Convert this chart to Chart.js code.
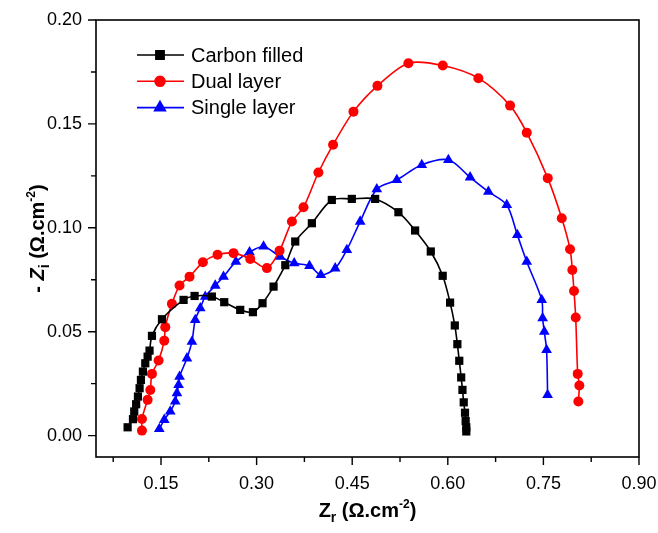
<!DOCTYPE html>
<html>
<head>
<meta charset="utf-8">
<script src="https://cdn.jsdelivr.net/npm/chart.js@4.4.0/dist/chart.umd.min.js"></script>
<style>
    body { margin: 0; background: #fff; }
    canvas { display: block; }
</style>
</head>
<body>
<canvas id="myChart" width="658" height="533"></canvas>
<script>
// Valeurs
const seriesNames = ['Carbon filled', 'Dual layer', 'Single layer'];

const carbonX = [0.0976, 0.106, 0.108, 0.111, 0.1138, 0.1164, 0.1185, 0.1216, 0.1253, 0.129, 0.132, 0.1358, 0.1515, 0.1854, 0.2027, 0.2298, 0.2492, 0.2743, 0.2942, 0.3093, 0.3266, 0.345, 0.3606, 0.3867, 0.418, 0.4494, 0.486, 0.5225, 0.5487, 0.5733, 0.592, 0.6036, 0.611, 0.615, 0.618, 0.621, 0.623, 0.625, 0.627, 0.628, 0.629, 0.629];
const carbonY = [0.004, 0.0079, 0.0116, 0.0151, 0.0188, 0.0228, 0.0268, 0.0308, 0.0348, 0.038, 0.0409, 0.048, 0.056, 0.0653, 0.0672, 0.0669, 0.0642, 0.0605, 0.0594, 0.0637, 0.0717, 0.082, 0.0934, 0.1022, 0.1134, 0.1139, 0.1139, 0.1075, 0.0987, 0.0886, 0.0769, 0.064, 0.053, 0.044, 0.036, 0.028, 0.022, 0.016, 0.011, 0.007, 0.004, 0.002];

const dualX = [0.1201, 0.1201, 0.129, 0.1332, 0.1358, 0.1462, 0.1551, 0.1567, 0.1671, 0.1791, 0.1948, 0.2157, 0.2387, 0.2638, 0.29, 0.3161, 0.336, 0.3554, 0.3736, 0.397, 0.42, 0.452, 0.4896, 0.5382, 0.5921, 0.648, 0.6977, 0.7239, 0.7568, 0.7788, 0.7918, 0.7954, 0.798, 0.8007, 0.8038, 0.8064, 0.8048];
const dualY = [0.0024, 0.008, 0.0172, 0.0219, 0.0297, 0.0361, 0.0457, 0.0522, 0.0634, 0.0722, 0.0765, 0.0834, 0.087, 0.0878, 0.085, 0.0806, 0.089, 0.103, 0.1099, 0.1266, 0.14, 0.1559, 0.1683, 0.1792, 0.1781, 0.172, 0.1588, 0.1458, 0.1239, 0.1046, 0.0897, 0.0797, 0.0696, 0.0568, 0.0297, 0.0241, 0.0164];

const singleX = [0.1473, 0.1551, 0.1645, 0.1724, 0.175, 0.1776, 0.1791, 0.1907, 0.1985, 0.2037, 0.2116, 0.2194, 0.2351, 0.2481, 0.2675, 0.2889, 0.3109, 0.337, 0.359, 0.383, 0.4008, 0.4233, 0.4416, 0.4625, 0.4886, 0.52, 0.5592, 0.6009, 0.635, 0.6637, 0.6925, 0.7091, 0.7239, 0.7474, 0.7488, 0.7514, 0.755, 0.7566];
const singleY = [0.0032, 0.0076, 0.0116, 0.0164, 0.0204, 0.0244, 0.0284, 0.0372, 0.0452, 0.0557, 0.0613, 0.0669, 0.0722, 0.0765, 0.0837, 0.0883, 0.091, 0.0861, 0.083, 0.0817, 0.0773, 0.0805, 0.0894, 0.103, 0.1186, 0.123, 0.1303, 0.1327, 0.1243, 0.1174, 0.111, 0.0966, 0.0837, 0.0653, 0.0565, 0.05, 0.0412, 0.0196];

const xMajorTicks = [0.15, 0.30, 0.45, 0.60, 0.75, 0.90];
const xMinorTicks = [0.075, 0.225, 0.375, 0.525, 0.675, 0.825];
const yMajorTicks = [0.00, 0.05, 0.10, 0.15, 0.20];
const yMinorTicks = [0.025, 0.075, 0.125, 0.175];

const FONT = "'Liberation Sans', Arial, sans-serif";

function toPoints(xs, ys) {
    return xs.map((x, i) => ({ x: x, y: ys[i] }));
}

// Texte avec indices / exposants
function drawRich(ctx, parts, cx, cy) {
    let total = 0;
    parts.forEach(p => {
        ctx.font = p.font;
        p.w = ctx.measureText(p.text).width;
        total += p.w;
    });
    let x = cx - total / 2;
    ctx.textAlign = 'left';
    ctx.textBaseline = 'alphabetic';
    parts.forEach(p => {
        ctx.font = p.font;
        ctx.fillText(p.text, x, cy + (p.dy || 0));
        x += p.w;
    });
}

const decorPlugin = {
    id: 'decor',
    afterDraw(chart) {
        const ctx = chart.ctx;
        const area = chart.chartArea;
        const xs = chart.scales.x;
        const ys = chart.scales.y;
        ctx.save();
        ctx.strokeStyle = '#000';
        ctx.fillStyle = '#000';

        // cadre
        ctx.lineWidth = 1.6;
        ctx.strokeRect(area.left, area.top, area.right - area.left, area.bottom - area.top);

        // graduations
        ctx.lineWidth = 1.4;
        ctx.beginPath();
        xMajorTicks.forEach(v => {
            const px = xs.getPixelForValue(v);
            ctx.moveTo(px, area.bottom); ctx.lineTo(px, area.bottom + 8);
        });
        xMinorTicks.forEach(v => {
            const px = xs.getPixelForValue(v);
            ctx.moveTo(px, area.bottom); ctx.lineTo(px, area.bottom + 5);
        });
        yMajorTicks.forEach(v => {
            const py = ys.getPixelForValue(v);
            ctx.moveTo(area.left, py); ctx.lineTo(area.left - 8, py);
        });
        yMinorTicks.forEach(v => {
            const py = ys.getPixelForValue(v);
            ctx.moveTo(area.left, py); ctx.lineTo(area.left - 5, py);
        });
        ctx.stroke();

        // légende
        chart.data.datasets.forEach((ds, i) => {
            const y = 55 + i * 26.3;
            ctx.strokeStyle = ds.borderColor;
            ctx.lineWidth = 1.6;
            ctx.beginPath();
            ctx.moveTo(137, y); ctx.lineTo(184, y);
            ctx.stroke();
            Chart.helpers.drawPoint(ctx, {
                pointStyle: ds.pointStyle,
                radius: ds.pointRadius,
                rotation: 0,
                borderWidth: 1
            }, 160, y);
            ctx.fillStyle = ds.backgroundColor;
            ctx.fill();
            ctx.fillStyle = '#000';
            ctx.font = '20px ' + FONT;
            ctx.textAlign = 'left';
            ctx.textBaseline = 'middle';
            ctx.fillText(ds.label, 191, y + 1);
        });

        // titres des axes
        ctx.fillStyle = '#000';
        drawRich(ctx, [
            { text: 'Z', font: 'bold 20px ' + FONT },
            { text: 'r', font: 'bold 14px ' + FONT, dy: 5 },
            { text: ' (\u03A9.cm', font: 'bold 20px ' + FONT },
            { text: '-2', font: 'bold 12px ' + FONT, dy: -9 },
            { text: ')', font: 'bold 20px ' + FONT }
        ], (area.left + area.right) / 2, 517);

        ctx.translate(44, (area.top + area.bottom) / 2);
        ctx.rotate(-Math.PI / 2);
        drawRich(ctx, [
            { text: '- ', font: 'bold 20px ' + FONT },
            { text: 'Z', font: 'italic bold 20px ' + FONT },
            { text: 'i', font: 'bold 14px ' + FONT, dy: 5 },
            { text: ' (\u03A9.cm', font: 'bold 20px ' + FONT },
            { text: '-2', font: 'bold 12px ' + FONT, dy: -9 },
            { text: ')', font: 'bold 20px ' + FONT }
        ], 0, 0);
        ctx.restore();
    }
};

const ctx = document.getElementById('myChart').getContext('2d');

new Chart(ctx, {
    type: 'scatter',
    data: {
        datasets: [{
            label: seriesNames[0],
            data: toPoints(carbonX, carbonY),
            borderColor: '#000000',
            backgroundColor: '#000000',
            pointStyle: 'rect',
            pointRadius: 5.8,
            pointBorderWidth: 0,
            showLine: true,
            borderWidth: 1.6,
            tension: 0.3
        }, {
            label: seriesNames[1],
            data: toPoints(dualX, dualY),
            borderColor: '#ff0000',
            backgroundColor: '#ff0000',
            pointStyle: 'circle',
            pointRadius: 5,
            pointBorderWidth: 0,
            showLine: true,
            borderWidth: 1.6,
            tension: 0.3
        }, {
            label: seriesNames[2],
            data: toPoints(singleX, singleY),
            borderColor: '#0000ff',
            backgroundColor: '#0000ff',
            pointStyle: 'triangle',
            pointRadius: 6.2,
            pointBorderWidth: 0,
            showLine: true,
            borderWidth: 1.6,
            tension: 0.3
        }]
    },
    options: {
        responsive: false,
        animation: false,
        layout: { padding: { top: 20, right: 19, left: 0, bottom: 0 } },
        plugins: {
            legend: { display: false },
            tooltip: { enabled: false }
        },
        scales: {
            x: {
                type: 'linear',
                min: 0.048,
                max: 0.90,
                grid: { display: false },
                border: { display: false },
                afterBuildTicks: function(scale) {
                    scale.ticks = xMajorTicks.map(v => ({ value: v }));
                },
                afterFit: function(scale) {
                    scale.height = 76;
                    scale.paddingLeft = 0;
                    scale.paddingRight = 0;
                },
                ticks: {
                    autoSkip: false,
                    maxRotation: 0,
                    padding: 8,
                    color: '#000',
                    font: { family: FONT, size: 18 },
                    callback: function(value) { return value.toFixed(2); }
                }
            },
            y: {
                type: 'linear',
                min: -0.0103,
                max: 0.20,
                grid: { display: false },
                border: { display: false },
                afterBuildTicks: function(scale) {
                    scale.ticks = yMajorTicks.map(v => ({ value: v }));
                },
                afterFit: function(scale) {
                    scale.width = 96;
                    scale.paddingTop = 0;
                    scale.paddingBottom = 0;
                },
                ticks: {
                    autoSkip: false,
                    padding: 6,
                    color: '#000',
                    font: { family: FONT, size: 18 },
                    callback: function(value) { return value.toFixed(2); }
                }
            }
        }
    },
    plugins: [decorPlugin]
});
</script>
</body>
</html>
